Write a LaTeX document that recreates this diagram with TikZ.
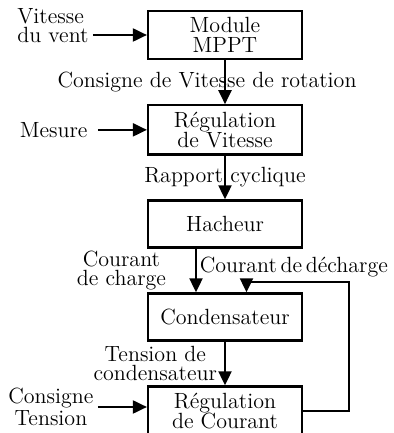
\documentclass[tikz,border=0pt]{standalone}
\usepackage{tikz}
\usetikzlibrary{arrows.meta, positioning, calc}

\begin{document}
\begin{tikzpicture}[
    node distance=21.9pt,
    block/.style={draw, line width=1.1pt, minimum width=77pt, minimum height=23.5pt, align=center, font=\fontsize{11}{10}\selectfont},
    lbl/.style={inner sep=2pt, align=center, font=\fontsize{11}{9.5}\selectfont},
    arrow/.style={-{Triangle[length=7pt, width=6.5pt]}, line width=1pt}
]
    \useasboundingbox (0,0) rectangle (196.5pt,-216.5pt);

    % Main blocks
    \node[block] (mppt) at (112.5pt,-17.5pt) {Module\\MPPT};
    \node[block, below=of mppt] (regv) {Régulation\\de Vitesse};
    \node[block, below=of regv] (hach) {Hacheur};
    \node[block, below=of hach] (cond) {Condensateur};
    \node[block, below=of cond] (regc) {Régulation\\de Courant};

    % Inputs
    \node[lbl, align=left, left=27pt of mppt.west, yshift=4.5pt] (vent) {Vitesse\\du vent};
    \node[lbl, inner xsep=5pt, left=24.5pt of regv.west] (mes) {Mesure};
    \node[lbl, left=24.5pt of regc.west, yshift=2pt] (cons) {Consigne\\Tension};

    \draw[arrow] (vent.east |- mppt.west) -- (mppt.west);
    \draw[arrow] (mes) -- (regv);
    \draw[arrow] (cons.east) -- (cons.east -| regc.west);

    % Connections
    \draw[arrow] (mppt) -- node[lbl, xshift=-9pt] {Consigne de Vitesse de rotation} (regv);
    \draw[arrow] (regv) -- node[lbl] {Rapport cyclique} (hach);
    \draw[arrow] ([xshift=-14.5pt]hach.south) -- node[lbl, left=12.5pt] {Courant\\de charge} ([xshift=-14.5pt]cond.north);
    \draw[arrow] (cond) -- node[lbl, left=1.5pt] {Tension de\\condensateur} (regc);

    % Feedback
    \coordinate[right=23pt of regc.east] (fbr);
    \coordinate[above=5pt of cond.north, xshift=10.75pt] (fbt);
    \draw[arrow] (regc.east) -- (fbr) |- node[lbl, pos=0.75, above, xshift=-2pt] {Courant\,de\,décharge} (fbt) -- (fbt |- cond.north);

\end{tikzpicture}
\end{document}
